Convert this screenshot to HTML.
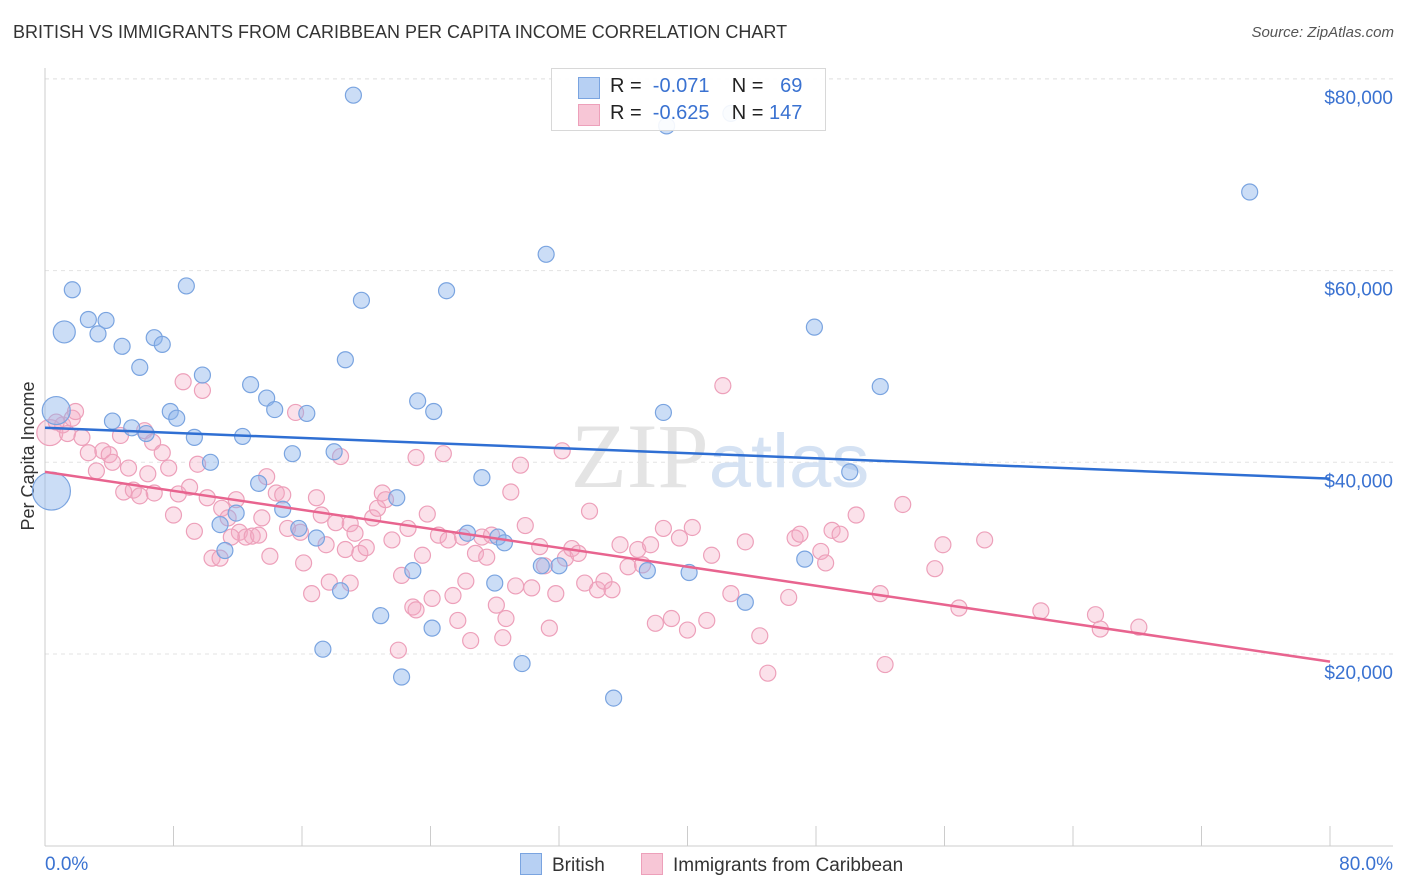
<!DOCTYPE html>
<html><head><meta charset="utf-8">
<style>
body{margin:0;background:#fff;font-family:"Liberation Sans",sans-serif;}
#wrap{position:relative;width:1406px;height:892px;overflow:hidden;}
.t{position:absolute;white-space:nowrap;}
</style></head>
<body>
<div id="wrap">
<div class="t" style="left:13px;top:22px;font-size:18px;color:#333;">BRITISH VS IMMIGRANTS FROM CARIBBEAN PER CAPITA INCOME CORRELATION CHART</div>
<div class="t" style="right:12px;top:24px;font-size:15px;color:#555;font-style:italic;">Source: ZipAtlas.com</div>
<svg id="plot" width="1406" height="892" style="position:absolute;left:0;top:0"></svg>
</div>
<script>
const yTicks=[20000,40000,60000,80000];
const yTickLabels=["$20,000","$40,000","$60,000","$80,000"];
const xTickLabels=["0.0%","80.0%"];
const britX=[19.2,38.7,75.0,31.2,1.7,8.8,25.0,19.7,1.2,2.7,3.8,3.3,6.8,7.3,4.8,47.9,18.7,5.9,9.8,12.8,52.0,13.8,23.2,14.3,16.3,24.2,7.8,8.2,38.5,0.7,4.2,5.4,6.3,9.3,12.3,18.0,15.4,10.3,27.2,50.1,0.4,21.9,13.3,14.8,11.9,10.9,15.8,26.3,28.2,16.9,28.6,11.2,47.3,30.9,32.0,37.5,40.1,22.9,28.0,18.4,20.9,43.6,24.1,17.3,29.7,22.2,35.4,42.7];
const britY=[78300,75100,68200,61700,58000,58400,57900,56900,53600,54900,54800,53400,53000,52300,52100,54100,50700,49900,49100,48100,47900,46700,46400,45500,45100,45300,45300,44600,45200,45400,44300,43600,43000,42600,42700,41100,40900,40000,38400,39000,37000,36300,37800,35100,34700,33500,33100,32600,32200,32100,31600,30800,29900,29200,29200,28700,28500,28700,27400,26600,24000,25400,22700,20500,19000,17600,15400,76400];
const britR=[8,8,8,8,8,8,8,8,11,8,8,8,8,8,8,8,8,8,8,8,8,8,8,8,8,8,8,8,8,14,8,8,8,8,8,8,8,8,8,8,19,8,8,8,8,8,8,8,8,8,8,8,8,8,8,8,8,8,8,8,8,8,8,8,8,8,8,8];
const caribX=[0.3,1.1,1.7,1.4,2.3,2.7,3.2,3.6,4.0,4.2,4.7,5.2,4.9,5.5,6.2,6.7,6.4,6.8,7.3,7.7,8.0,8.3,8.6,9.0,9.3,9.5,9.8,10.1,10.4,10.9,11.0,11.4,11.9,12.1,12.5,12.9,13.3,13.5,13.8,14.0,14.4,14.8,15.1,15.6,15.9,16.1,16.6,16.9,17.2,17.5,17.7,18.1,18.4,18.7,19.0,19.3,19.6,20.0,20.4,20.7,21.0,21.2,21.6,22.0,22.2,22.6,22.9,23.1,23.5,23.8,24.1,24.5,24.8,25.1,25.4,25.7,26.0,26.2,26.5,26.8,27.2,27.5,27.8,28.1,28.5,28.7,29.0,29.3,29.6,29.9,30.3,30.8,31.1,31.4,31.8,32.2,32.4,32.8,33.2,33.6,33.9,34.4,34.8,35.3,35.8,36.3,36.9,37.2,37.7,38.0,38.5,39.0,39.5,40.0,40.3,41.2,41.5,42.2,42.7,43.6,44.5,45.0,46.3,46.7,47.0,48.3,48.6,49.0,49.5,50.5,52.0,52.3,53.4,55.4,55.9,56.9,58.5,62.0,65.4,65.7,68.1,0.7,1.9,5.9,11.6,19.0,23.1];
const caribY=[43100,43900,44600,43000,42600,41000,39100,41200,40800,40000,42800,39400,36900,37100,43300,42100,38800,36800,41000,39400,34500,36700,48400,37400,32800,39800,47500,36300,30000,30000,35200,34200,36100,32700,32200,32300,32400,34200,38500,30200,36800,36600,33100,45200,32700,29500,26300,36300,34500,31400,27500,33700,40600,30900,33600,32600,30500,31100,34200,35200,36800,36100,31900,20400,28200,33100,24900,40500,30300,34600,25800,32400,40900,31900,26100,23500,32200,27600,21400,30500,32200,30100,32400,25100,21700,23700,36900,27100,39700,33400,26900,31200,29200,22700,26300,41200,30000,31000,30500,27400,34900,26700,27600,26700,31400,29100,30900,29300,31400,23200,33100,23700,32100,22500,33200,23500,30300,48000,26300,31700,21900,18000,25900,32100,32500,30700,29500,32900,32500,34500,26300,18900,35600,28900,31400,24800,31900,24500,24100,22600,22800,44200,45300,36500,32200,27400,24600];
const britTrend=[43600,38300];
const caribTrend=[39000,19200];

const NS="http://www.w3.org/2000/svg";
const svg=document.getElementById('plot');
const X0=45,X1=1330,YB=845.7,PPV=191.7/20000;
function xs(p){return X0+(p/80)*(X1-X0);}
function ys(v){return YB-v*PPV;}
function mk(tag,at){const e=document.createElementNS(NS,tag);for(const k in at)e.setAttribute(k,at[k]);svg.appendChild(e);return e;}

yTicks.forEach((v,i)=>{
  const g=mk('line',{x1:X0,x2:1393,y1:ys(v),y2:ys(v),stroke:'#e3e3e3','stroke-dasharray':'4,4'});
  
  
  const t=mk('text',{x:1393,y:ys(v)+25,'text-anchor':'end','font-size':19,fill:'#3a72d1','font-family':'Liberation Sans, sans-serif'});
  t.textContent=yTickLabels[i];
  
  
});
const topGrid=mk('line',{x1:X0,x2:1393,y1:ys(80000),y2:ys(80000),stroke:'#e3e3e3','stroke-dasharray':'4,4'});
const ax=mk('line',{x1:X0,x2:X0,y1:68,y2:846,stroke:'#cccccc'});


const bx=mk('line',{x1:X0,x2:1393,y1:846,y2:846,stroke:'#cccccc'});


for(let i=0;i<=10;i++){
  const tk=mk('line',{x1:xs(i*8),x2:xs(i*8),y1:826,y2:846,stroke:'#cccccc'});
  
  
}
[[0,'start',45],[80,'end',1393]].forEach((d,i)=>{
  const t=mk('text',{x:d[2],y:870,'text-anchor':d[1],'font-size':19,fill:'#3a72d1','font-family':'Liberation Sans, sans-serif'});
  t.textContent=xTickLabels[i];
  
  
});
const yt=mk('text',{x:34,y:456,transform:'rotate(-90 34 456)','text-anchor':'middle','font-size':18,fill:'#333','font-family':'Liberation Sans, sans-serif'});
yt.textContent='Per Capita Income';


const wm=mk('text',{x:720,y:487,'text-anchor':'middle','font-size':92,fill:'#e4e4e4','font-family':'Liberation Serif, serif'});
wm.innerHTML='ZIP<tspan fill="#d5e2f3" font-family="Liberation Sans, sans-serif" font-size="76">atlas</tspan>';



caribX.forEach((p,i)=>{
  const c=mk('circle',{cx:xs(p),cy:ys(caribY[i]),r:(i===0?13:8),fill:'rgba(244,170,195,0.35)',stroke:'#eda0ba','stroke-width':1.2});
  
  
});
britX.forEach((p,i)=>{
  const c=mk('circle',{cx:xs(p),cy:ys(britY[i]),r:britR[i],fill:'rgba(140,180,235,0.45)',stroke:'#7aa4e0','stroke-width':1.2});
  
  
});
const l1=mk('line',{x1:xs(0),x2:xs(80),y1:ys(britTrend[0]),y2:ys(britTrend[1]),stroke:'#2f6fd3','stroke-width':2.5});


const l2=mk('line',{x1:xs(0),x2:xs(80),y1:ys(caribTrend[0]),y2:ys(caribTrend[1]),stroke:'#e8648f','stroke-width':2.5});


</script>
<div class="t" style="left:551px;top:68px;width:273px;height:61px;border:1px solid #d8d8d8;background:rgba(255,255,255,0.9);font-size:20px;color:#222;">
  <div style="position:absolute;left:26px;top:8px;width:20px;height:20px;background:#b7d0f3;border:1px solid #7aa4e0;"></div>
  <div class="t" style="left:58px;top:6px;">R = &nbsp;<span style="color:#3a72d1">-0.071</span>&nbsp;&nbsp;&nbsp; N = &nbsp;&nbsp;<span style="color:#3a72d1">69</span></div>
  <div style="position:absolute;left:26px;top:35px;width:20px;height:20px;background:#f7c6d6;border:1px solid #eda0ba;"></div>
  <div class="t" style="left:58px;top:33px;">R = &nbsp;<span style="color:#3a72d1">-0.625</span>&nbsp;&nbsp;&nbsp; N = <span style="color:#3a72d1">147</span></div>
</div>
<div class="t" style="left:520px;top:853px;font-size:19px;color:#333;">
  <span style="display:inline-block;width:20px;height:20px;background:#b7d0f3;border:1px solid #7aa4e0;vertical-align:-4px;margin-right:10px;"></span>British</div>
<div class="t" style="left:641px;top:853px;font-size:19px;color:#333;">
  <span style="display:inline-block;width:20px;height:20px;background:#f7c6d6;border:1px solid #eda0ba;vertical-align:-4px;margin-right:10px;"></span>Immigrants from Caribbean</div>
</body></html>
